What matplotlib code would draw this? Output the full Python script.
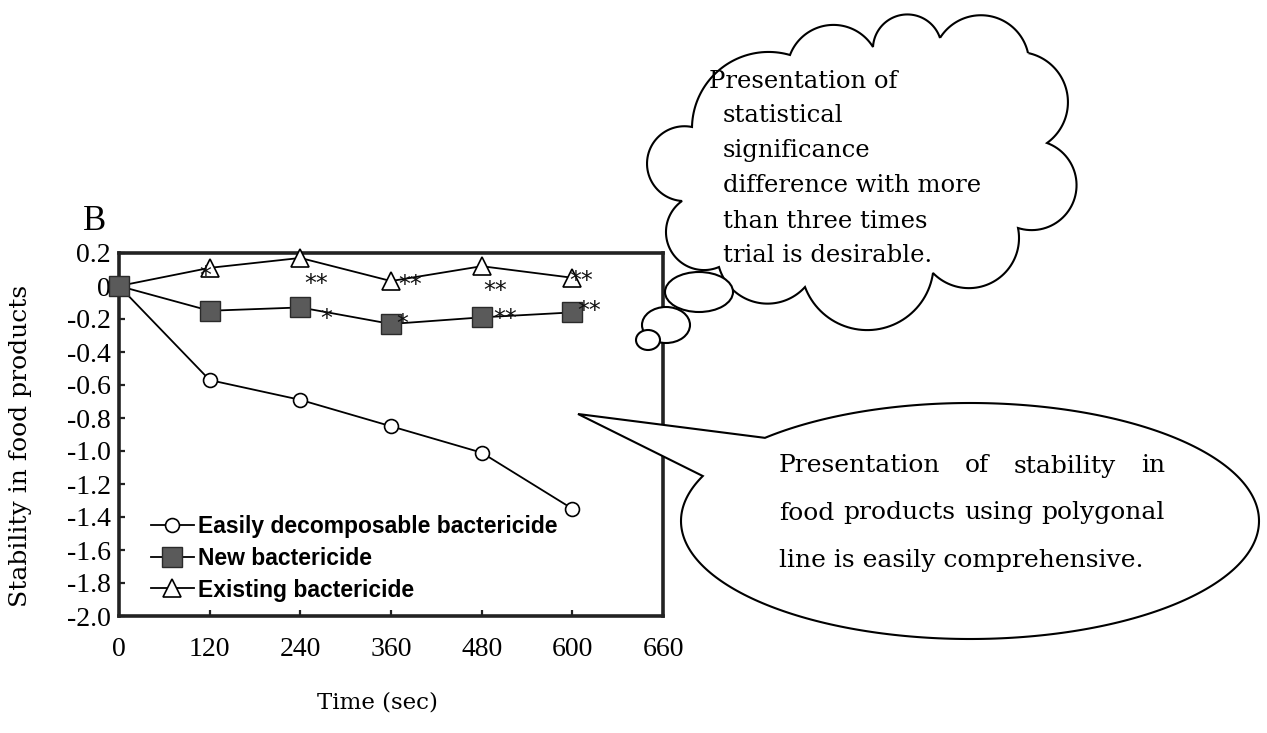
import numpy as np
import matplotlib
matplotlib.use("Agg")
import matplotlib.pyplot as plt
from matplotlib.patches import Ellipse, Polygon

# ---------------- data ----------------
time_labels = ["0", "120", "240", "360", "480", "600", "660"]
times = [0, 120, 240, 360, 480, 600]
easily_decomposable = [0.0, -0.57, -0.69, -0.85, -1.01, -1.35]
new_bactericide = [0.0, -0.15, -0.13, -0.23, -0.19, -0.16]
existing_bactericide = [0.0, 0.11, 0.17, 0.03, 0.12, 0.05]
existing_sig = ["", "*", "**", "**", "**", "**"]
new_sig = ["", "", "*", "*", "**", "**"]
y_ticks = [0.2, 0.0, -0.2, -0.4, -0.6, -0.8, -1.0, -1.2, -1.4, -1.6, -1.8, -2.0]
y_tick_labels = ["0.2", "0", "-0.2", "-0.4", "-0.6", "-0.8", "-1.0", "-1.2",
                 "-1.4", "-1.6", "-1.8", "-2.0"]
series_names = ["Easily decomposable bactericide", "New bactericide", "Existing bactericide"]
cloud_lines = ["Presentation of", "statistical", "significance",
               "difference with more", "than three times", "trial is desirable."]
speech_lines = ["Presentation of stability in", "food products using polygonal",
                "line is easily comprehensive."]

# ---------------- figure ----------------
W, H = 1267, 733
fig = plt.figure(figsize=(W / 100, H / 100), dpi=100)
fig.patch.set_facecolor("white")

ax = fig.add_axes([119 / W, 1 - 616 / H, 544 / W, 363 / H])
x = np.arange(len(times))

l_exist, = ax.plot(x, existing_bactericide, "-^", color="black", lw=1.3, ms=13,
                   mfc="white", mec="black", mew=1.2, clip_on=False, zorder=3)
l_easy, = ax.plot(x, easily_decomposable, "-o", color="black", lw=1.3, ms=10,
                  mfc="white", mec="black", mew=1.2, clip_on=False, zorder=3)
l_new, = ax.plot(x, new_bactericide, "-s", color="black", lw=1.3, ms=14,
                 mfc="#5a5a5a", mec="#2a2a2a", mew=1.0, clip_on=False, zorder=4)

ax.set_xlim(0, len(time_labels) - 1)
ax.set_ylim(-2.0, 0.2)
ax.set_xticks(np.arange(len(time_labels)))
ax.set_xticklabels(time_labels)
ax.set_yticks(y_ticks)
ax.set_yticklabels(y_tick_labels)
ax.tick_params(axis="both", direction="in", length=4, width=1.6, colors="#222222",
               labelsize=20, labelcolor="black")
ax.tick_params(axis="y", pad=6)
ax.tick_params(axis="x", pad=15)
for lab in ax.get_xticklabels() + ax.get_yticklabels():
    lab.set_fontfamily("Liberation Serif")
for sp in ax.spines.values():
    sp.set_linewidth(2.6)
    sp.set_color("#222222")

# significance marks
exist_off = [(0, 0), (-3, -6), (11.5, -19), (13.5, -3), (10, -18), (6.5, -2)]
new_off = [(0, 0), (0, 0), (18.5, -8), (8, 0), (17, -1), (12, 1)]
for vals, sig, off in [(existing_bactericide, existing_sig, exist_off),
                       (new_bactericide, new_sig, new_off)]:
    for i, s in enumerate(sig):
        if s:
            ax.annotate(s, (x[i], vals[i]), xytext=off[i], textcoords="offset points",
                        ha="center", va="center", fontsize=17, family="DejaVu Sans",
                        color="#111111", zorder=5, annotation_clip=False)

leg = ax.legend([l_easy, l_new, l_exist], series_names, loc="upper left",
                bbox_to_anchor=(0.058, 0.278), frameon=False, borderpad=0,
                borderaxespad=0, handlelength=1.9, handletextpad=0.15,
                labelspacing=0.38,
                prop={"family": "Liberation Sans", "size": 16.5, "weight": "bold"})

# labels
fig.text(95 / W, 1 - 222 / H, "B", family="Liberation Serif", fontsize=25,
         ha="center", va="center")
fig.text(21 / W, 1 - 446 / H, "Stability in food products", family="DejaVu Serif",
         fontsize=18, rotation=90, ha="center", va="center")
fig.text(377 / W, 1 - 703 / H, "Time (sec)", family="DejaVu Serif", fontsize=16.5,
         ha="center", va="center")

# ---------------- overlay (pixel coordinates) ----------------
ov = fig.add_axes([0, 0, 1, 1], zorder=10)
ov.set_xlim(0, W)
ov.set_ylim(H, 0)
ov.axis("off")
ov.patch.set_alpha(0)


def arc_between(p0, p1, h, center_ref, npts=50):
    p0 = np.asarray(p0, float)
    p1 = np.asarray(p1, float)
    ch = p1 - p0
    c = np.hypot(*ch)
    s = c / 2
    n = np.array([ch[1], -ch[0]]) / c
    mid = (p0 + p1) / 2
    if np.dot(n, mid - np.asarray(center_ref)) < 0:
        n = -n
    R = (s * s + h * h) / (2 * h)
    cen = mid - n * (R - h)
    a0 = np.arctan2(*(p0 - cen)[::-1])
    a1 = np.arctan2(*(p1 - cen)[::-1])
    am = np.arctan2(n[1], n[0])
    d_ccw = (a1 - a0) % (2 * np.pi)
    if (am - a0) % (2 * np.pi) < d_ccw:
        angs = a0 + np.linspace(0, d_ccw, npts)
    else:
        angs = a0 - np.linspace(0, 2 * np.pi - d_ccw, npts)
    return np.column_stack([cen[0] + R * np.cos(angs), cen[1] + R * np.sin(angs)])


# cloud outline: junction points and lobe heights (pixels)
junctions = [(692, 127), (682, 201), (719, 267), (805, 287), (933, 273), (1018, 228),
             (1047, 143), (1028, 53), (940, 38), (873, 47), (790, 55)]
sagitta = [40, 34, 26, 50, 36, 44, 30, 30, 28, 26, 30]
ref = (865, 165)
pts = []
for k in range(len(junctions)):
    pts.append(arc_between(junctions[k], junctions[(k + 1) % len(junctions)],
                           sagitta[k], ref))
cp = np.vstack(pts)
ov.add_patch(Polygon(cp, closed=True, facecolor="white", edgecolor="black", lw=1.5))
for (cx, cy, w, h) in [(699, 292, 68, 40), (666, 325, 48, 36), (648, 340, 24, 20)]:
    ov.add_patch(Ellipse((cx, cy), w, h, facecolor="white", edgecolor="black", lw=1.5))

cloud_x = [709, 723, 723, 723, 723, 723]
for i, line in enumerate(cloud_lines):
    ov.text(cloud_x[i], 81 + i * 35, line, family="DejaVu Serif", fontsize=17.5,
            ha="left", va="center")

# speech bubble
ecx, ecy, ea, eb = 970, 521, 289, 118
t = np.radians(np.linspace(224.8, 562.4, 300))
ell = np.column_stack([ecx + ea * np.cos(t), ecy + eb * np.sin(t)])
speech = np.vstack([ell, [[578, 414]]])
ov.add_patch(Polygon(speech, closed=True, facecolor="white", edgecolor="black", lw=1.5))

renderer = fig.canvas.get_renderer()
sx0, sx1 = 779, 1165
for i, line in enumerate(speech_lines):
    y = 466 + i * 47
    words = line.split()
    if i < len(speech_lines) - 1:
        texts = [ov.text(0, y, w_, family="DejaVu Serif", fontsize=18, ha="left",
                         va="center") for w_ in words]
        widths = [tt.get_window_extent(renderer).width for tt in texts]
        gap = (sx1 - sx0 - sum(widths)) / (len(words) - 1)
        xp = sx0
        for tt, wd in zip(texts, widths):
            tt.set_x(xp)
            xp += wd + gap
    else:
        ov.text(sx0, y, line, family="DejaVu Serif", fontsize=18, ha="left", va="center")

fig.savefig("out.png", dpi=100)
